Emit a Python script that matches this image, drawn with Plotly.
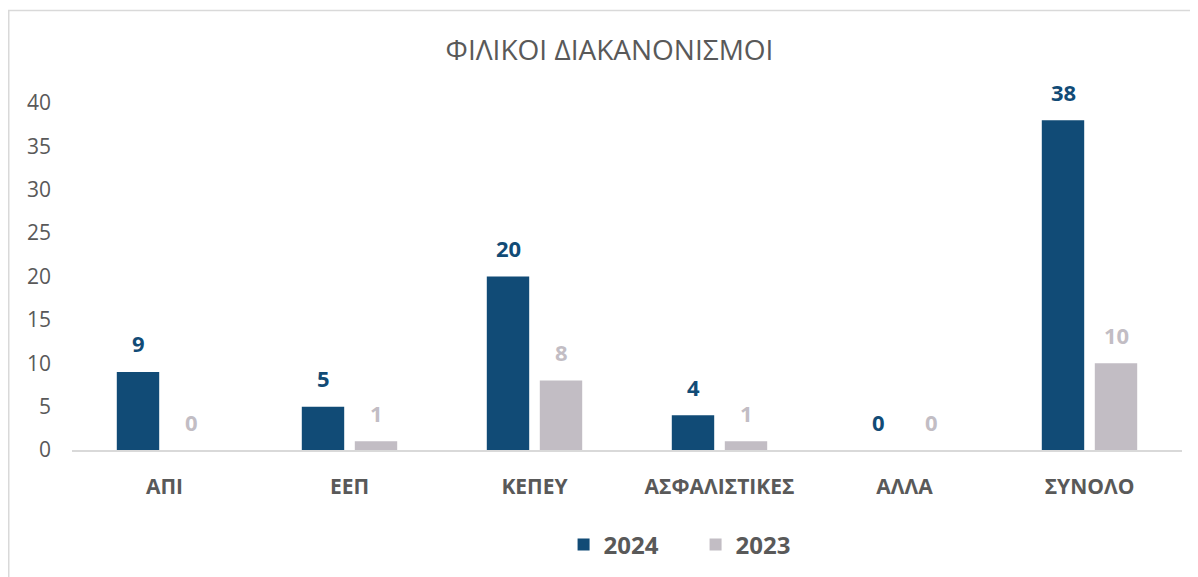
import plotly.graph_objects as go

categories = ["ΑΠΙ", "ΕΕΠ", "ΚΕΠΕΥ", "ΑΣΦΑΛΙΣΤΙΚΕΣ", "ΑΛΛΑ", "ΣΥΝΟΛΟ"]
values_2024 = [9, 5, 20, 4, 0, 38]
values_2023 = [0, 1, 8, 1, 0, 10]
series_names = ["2024", "2023"]
y_ticks = [0, 5, 10, 15, 20, 25, 30, 35, 40]
title_text = "ΦΙΛΙΚΟΙ ΔΙΑΚΑΝΟΝΙΣΜΟΙ"

c2024 = "#114b76"
c2023 = "#c2bdc4"
gray = "#595959"
font_family = "Open Sans, Noto Sans, sans-serif"

# page has an 8px body margin; figure is sized to fit the remaining window
W, H = 1190, 569
ml, mr, mt, mb = 64, 16, 95, 127
pw = W - ml - mr
ph = H - mt - mb

fig = go.Figure()
fig.add_trace(go.Bar(
    x=categories, y=values_2024, name=series_names[0],
    marker=dict(color=c2024, line=dict(width=0)),
))
fig.add_trace(go.Bar(
    x=categories, y=values_2023, name=series_names[1],
    marker=dict(color=c2023, line=dict(width=0)),
))

# data labels above bars
for vals, col, dx in [(values_2024, c2024, -26.5), (values_2023, c2023, 26.5)]:
    for cat, v in zip(categories, vals):
        fig.add_annotation(x=cat, y=v, xref="x", yref="y", text=str(v), showarrow=False,
                           xshift=dx, yshift=28.5, yanchor="middle", xanchor="center",
                           font=dict(color=col, size=22, family=font_family, weight="bold"))

fig.add_shape(type="rect", xref="paper", yref="paper",
              x0=(0.75 - ml) / pw, x1=(W + 10 - ml) / pw,
              y0=(H - mb - (H + 10)) / ph, y1=(H - mb - 2.5) / ph,
              line=dict(color="#d9d9d9", width=1.5), fillcolor="rgba(0,0,0,0)",
              layer="below")

fig.update_layout(
    width=W, height=H,
    margin=dict(l=ml, r=mr, t=mt, b=mb, autoexpand=False),
    paper_bgcolor="white", plot_bgcolor="white",
    barmode="group", bargap=0.427, bargroupgap=0.2,
    title=dict(text=title_text, x=601.5 / W, xanchor="center", y=1 - 42 / H, yanchor="middle",
               font=dict(size=28, color=gray, family=font_family)),
    font=dict(family=font_family, color=gray),
    showlegend=True,
    legend=dict(orientation="h", x=527 / W, xanchor="left",
                yref="container", y=1 - 537 / H, yanchor="middle",
                font=dict(size=24, color=gray, family=font_family, weight="bold"),
                itemwidth=30, entrywidth=87, entrywidthmode="pixels",
                tracegroupgap=0, traceorder="normal"),
    xaxis=dict(showline=True, linecolor="#d9d9d9", linewidth=1.5, showgrid=False,
               ticks="", tickfont=dict(size=21, color=gray, family=font_family, weight="bold"),
               ticklabelstandoff=17, zeroline=False),
    yaxis=dict(range=[0, 40], tickvals=y_ticks, showgrid=False, zeroline=False,
               showline=False, ticks="", tickfont=dict(size=21, color=gray, family=font_family),
               ticklabelstandoff=20),
)

fig.write_html("out.html")
